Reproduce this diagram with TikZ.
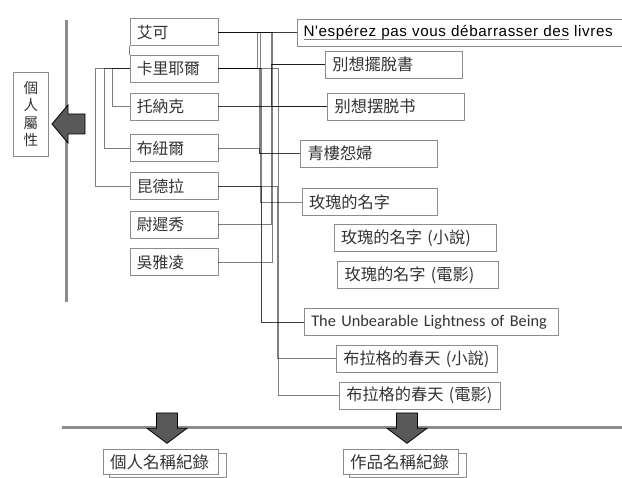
\documentclass[tikz,border=0pt]{standalone}
\usepackage{fontspec}
\usetikzlibrary{calc}
\newfontfamily\cjk{Noto Sans CJK TC}
\newfontfamily\cjksc{Noto Sans CJK SC}
\newfontfamily\arialf[LetterSpace=4]{Liberation Sans}
\newfontfamily\calf{Carlito}
\definecolor{boxgray}{HTML}{8C8C8C}
\definecolor{txt}{HTML}{333333}
\definecolor{arrowfill}{HTML}{595959}
\definecolor{rulegray}{HTML}{8C8C8C}
\newsavebox\ulbox
\newcommand\grayul[1]{\sbox\ulbox{#1}\rlap{\textcolor{gray}{\rule[-2.5pt]{\wd\ulbox}{0.6pt}}}\usebox\ulbox}
\begin{document}
\begin{tikzpicture}[x=1pt,y=-1pt,
  box/.style={draw=boxgray, line width=0.6pt, fill=white, anchor=north west,
    inner xsep=7pt, inner ysep=0pt, minimum height=27pt, align=left, text=txt,
    font=\cjk\fontsize{15.8}{18}\selectfont},
  wbox/.style={box, font=\cjk\fontsize{16.2}{18}\selectfont},
  elbow/.style={to path={-| ($(\tikztostart)!0.5!(\tikztotarget)$) |- (\tikztotarget)}},
  link/.style={draw=black, draw opacity=0.5, line width=0.6pt},
  bigarrow/.style={fill=arrowfill, draw=black, line width=0.8pt, line join=miter},
  rulebar/.style={draw=rulegray, line width=3pt}]
\useasboundingbox[fill=white] (0,0) rectangle (622,478);

% rules
\draw[rulebar] (66,20) coordinate (vtop) -- (66,302) coordinate (vbot);
\draw[rulebar] (62,428) coordinate (hl) -- (622,428) coordinate (hr);

% left column (persons)
\node[box, text width=74pt] (aike) at (129.5,18.3) {艾可};
\node[box, text width=74pt] (kar)  at (129.5,55)   {卡里耶爾};
\node[box, text width=74pt] (tona) at (129.5,92.7) {托納克};
\node[box, text width=74pt] (bun)  at (129.5,134.3) {布紐爾};
\node[box, text width=74pt] (kun)  at (129.5,172.3) {昆德拉};
\node[box, text width=74pt] (wei)  at (129.5,210.7) {尉遲秀};
\node[box, text width=74pt] (wu)   at (129.5,248.3) {吳雅凌};

% right column (works)
\node[box, inner xsep=6.5pt, text width=313pt, font=\arialf\fontsize{15.2}{18}\selectfont, text=black] (nesp) at (296.7,19)
  {\grayul{N'espérez pas vous débarrasser des} livres};
\node[wbox, text width=122.7pt] (bie1) at (325,51) {別想擺脫書};
\node[wbox, text width=123pt, font=\cjksc\fontsize{16.2}{18}\selectfont] (bie2) at (327.3,92.7) {别想摆脱书};
\node[wbox, text width=122.4pt] (qing) at (300.3,140) {青樓怨婦};
\node[wbox, text width=121.6pt] (mei)  at (301.7,188.3) {玫瑰的名字};
\node[wbox, text width=148pt] (mei1) at (333.7,224.3) {玫瑰的名字 (小說)};
\node[wbox, text width=147pt] (mei2) at (337.3,261) {玫瑰的名字 (電影)};
\node[wbox, text width=240.3pt, font=\calf\fontsize{16.3}{18}\selectfont] (unb) at (304,308.3) {The Unbearable Lightness of Being};
\node[wbox, text width=147.3pt] (bu1) at (336,345) {布拉格的春天 (小說)};
\node[wbox, text width=147pt] (bu2) at (339,381.7) {布拉格的春天 (電影)};

% connectors between persons and works
\draw[link] (aike.east) to[elbow] (nesp.west);
\draw[link] (kar.east)  to[elbow] (nesp.west);
\draw[link] (aike.east) to[elbow] (bie1.west);
\draw[link] (aike.east) to[elbow] (bie2.west);
\draw[link] (aike.east) to[elbow] (mei.west);
\draw[link] (kar.east)  to[elbow] (qing.west);
\draw[link] (bun.east)  to[elbow] (qing.west);
\draw[link] (tona.east) to[elbow] (bie2.west);
\draw[link] (tona.east) to[elbow] (bie1.west);
\draw[link] (wei.east)  to[elbow] (bie1.west);
\draw[link] (wu.east)   to[elbow] (bie2.west);
\draw[link] (kun.east)  to[elbow] (unb.west);
\draw[link] (kar.east)  to[elbow] (unb.west);
\draw[link] (kun.east)  to[elbow] (bu1.west);
\draw[link] (kar.east)  to[elbow] (bu2.west);

% connectors on the left side
\draw[link] (aike.south west) -- (kar.north west);
\draw[link] (kar.west) -- ++(-17.2,0) |- (tona.west);
\draw[link] (kar.west) -- ++(-25.5,0) |- (bun.west);
\draw[link] (kar.west) -- ++(-34.5,0) |- (kun.west);

% property box
\node[draw=boxgray, line width=0.6pt, anchor=north west, minimum width=34.4pt,
  minimum height=84.3pt, inner sep=0pt, align=center, text=txt,
  font=\cjk\fontsize{14.5}{17.5}\selectfont] (prop) at (13.3,71.7) {個\\人\\屬\\性};

% big arrows
\draw[bigarrow] (52,124) -- (68,105) -- (68,114) -- (85,114) -- (85,134) -- (68,134) -- (68,143) -- cycle;
\draw[bigarrow] (156.5,413) -- (177.5,413) -- (177.5,428.3) -- (187,428.3) -- (167,443.3) -- (147,428.3) -- (156.5,428.3) -- cycle;
\draw[bigarrow] (396.5,413) -- (417.5,413) -- (417.5,428.3) -- (427,428.3) -- (407,443.3) -- (387,428.3) -- (396.5,428.3) -- cycle;

% bottom boxes
\draw[draw=boxgray, line width=0.6pt, fill=white] (109,453) rectangle (226.5,477.3);
\node[box, minimum height=25pt, text width=101.6pt, font=\cjk\fontsize{16.5}{18}\selectfont] (prec) at (102.7,449.3) {個人名稱紀錄};
\draw[draw=boxgray, line width=0.6pt, fill=white] (349,453) rectangle (466.5,477.3);
\node[box, minimum height=25pt, text width=101.6pt, font=\cjk\fontsize{16.5}{18}\selectfont] (wrec) at (342.7,449.3) {作品名稱紀錄};
\end{tikzpicture}
\end{document}
